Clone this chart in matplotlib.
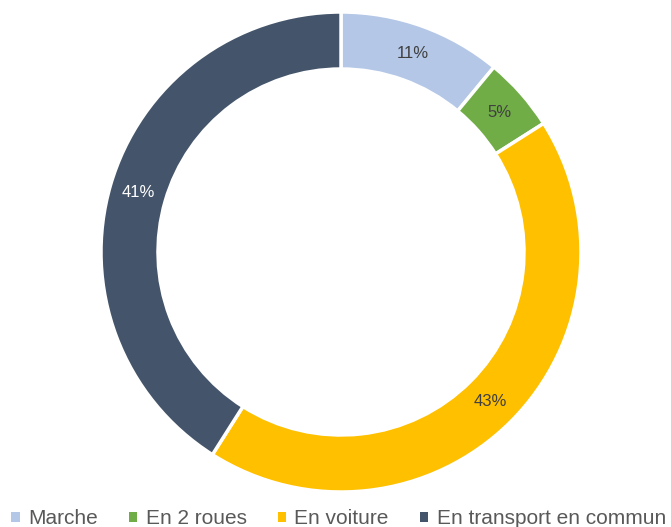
import numpy as np
import matplotlib.pyplot as plt
from matplotlib.patches import Patch

# Data
categories = ["Marche", "En 2 roues", "En voiture", "En transport en commun"]
shares = [11, 5, 43, 41]
colors = ["#B4C7E7", "#70AD47", "#FFC000", "#44546A"]
label_colors = ["#404040", "#404040", "#404040", "#FFFFFF"]

plt.rcParams['font.family'] = ['Liberation Sans', 'DejaVu Sans']

W, H = 671, 527
fig = plt.figure(figsize=(W / 100, H / 100), dpi=100)

# donut centred at (341, 252) px, outer radius 240 px
cx, cy, r = 341, 252, 240
ax = fig.add_axes([(cx - r) / W, (H - cy - r) / H, 2 * r / W, 2 * r / H])

ring = 57 / 240
wedges, texts = ax.pie(
    shares,
    colors=colors,
    startangle=90,
    counterclock=False,
    radius=1.0,
    wedgeprops=dict(width=ring, edgecolor="white", linewidth=2.5),
    labels=[f"{v}%" for v in shares],
    labeldistance=1 - ring / 2,
    textprops=dict(fontsize=12, ha="center", va="center"),
)
for t, c in zip(texts, label_colors):
    t.set_color(c)
    t.set_horizontalalignment("center")
ax.set_xlim(-1, 1)
ax.set_ylim(-1, 1)
ax.set_aspect("equal")
ax.axis("off")

handles = [Patch(facecolor=c, edgecolor="none") for c in colors]
fig.legend(
    handles, categories,
    loc="center left",
    bbox_to_anchor=(-0.005, (H - 519) / H),
    ncol=4,
    frameon=False,
    fontsize=15,
    handlelength=0.4,
    handleheight=0.4,
    handletextpad=0.4,
    columnspacing=1.5,
    borderpad=0.2,
    labelcolor="#595959",
)

fig.savefig("out.png", dpi=100)
